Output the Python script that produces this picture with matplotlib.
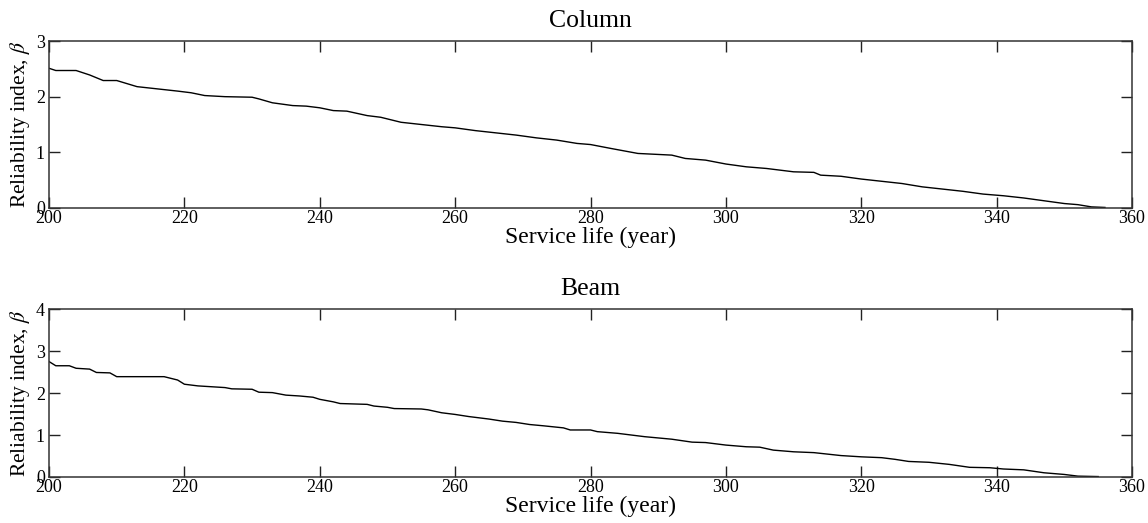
import matplotlib
matplotlib.use("Agg")
import matplotlib.pyplot as plt

plt.rcParams['font.family'] = ['Liberation Serif', 'DejaVu Serif']
plt.rcParams['mathtext.fontset'] = 'stix'

# Column curve
col_years = [200, 201, 204, 206, 208, 210, 213, 216, 219, 221, 223, 226, 230, 231,
             233, 236, 238, 240, 242, 244, 247, 249, 252, 255, 258, 260, 263, 266,
             269, 272, 275, 278, 280, 283, 287, 292, 294, 297, 300, 303, 306, 310,
             313, 314, 317, 320, 323, 326, 329, 332, 335, 338, 341, 344, 347, 350,
             352, 354, 356]
col_beta = [2.51, 2.47, 2.47, 2.39, 2.29, 2.29, 2.18, 2.14, 2.10, 2.07, 2.02, 2.00, 1.99, 1.96,
            1.89, 1.84, 1.83, 1.80, 1.75, 1.74, 1.66, 1.63, 1.54, 1.50, 1.46, 1.44, 1.39, 1.35,
            1.31, 1.26, 1.22, 1.16, 1.14, 1.07, 0.98, 0.95, 0.89, 0.86, 0.79, 0.74, 0.71, 0.65,
            0.64, 0.59, 0.57, 0.52, 0.48, 0.44, 0.38, 0.34, 0.30, 0.25, 0.22, 0.18, 0.13, 0.08,
            0.06, 0.02, 0.01]

# Beam curve
beam_years = [200, 201, 203, 204, 206, 207, 209, 210, 213, 217, 219, 220, 222, 224, 226,
              227, 230, 231, 233, 235, 237, 239, 240, 242, 243, 247, 248, 250, 251, 255,
              256, 258, 260, 262, 265, 267, 269, 271, 273, 276, 277, 280, 281, 284, 288,
              292, 295, 297, 300, 303, 305, 307, 310, 313, 317, 320, 323, 325, 327, 330,
              333, 336, 339, 341, 344, 347, 350, 352, 355]
beam_beta = [2.75, 2.65, 2.65, 2.59, 2.57, 2.49, 2.48, 2.39, 2.39, 2.39, 2.31, 2.21, 2.17, 2.15, 2.13,
             2.10, 2.09, 2.02, 2.01, 1.95, 1.93, 1.90, 1.85, 1.79, 1.75, 1.73, 1.69, 1.66, 1.63, 1.62,
             1.60, 1.53, 1.49, 1.44, 1.38, 1.33, 1.30, 1.25, 1.22, 1.17, 1.12, 1.12, 1.08, 1.04, 0.96,
             0.90, 0.83, 0.82, 0.76, 0.72, 0.71, 0.64, 0.60, 0.58, 0.51, 0.48, 0.46, 0.42, 0.37, 0.35,
             0.30, 0.23, 0.22, 0.19, 0.17, 0.10, 0.06, 0.02, 0.01]

x_ticks = [200, 220, 240, 260, 280, 300, 320, 340, 360]

fig = plt.figure(figsize=(11.48, 5.23), dpi=100)
ax1 = fig.add_axes([0.0427, 0.6023, 0.9434, 0.3193])
ax2 = fig.add_axes([0.0427, 0.088, 0.9434, 0.321])


def style(ax, title, ymax):
    ax.set_xlim(200, 360)
    ax.set_ylim(0, ymax)
    ax.set_xticks(x_ticks)
    ax.set_yticks(range(0, ymax + 1))
    ax.tick_params(direction='in', length=8, width=1, top=True, right=True,
                   labelsize=13, color='#222222')
    ax.tick_params(axis='x', pad=1.5)
    ax.tick_params(axis='y', pad=3)
    for s in ax.spines.values():
        s.set_linewidth(1.1)
        s.set_color('#333333')
    ax.set_title(title, fontsize=18.5, pad=10)
    ax.set_xlabel('Service life (year)', fontsize=17, labelpad=0)
    ax.set_ylabel(r'Reliability index, $\beta$', fontsize=15.5, labelpad=3)


ax1.plot(col_years, col_beta, color='black', linewidth=1.0)
style(ax1, 'Column', 3)

ax2.plot(beam_years, beam_beta, color='black', linewidth=1.0)
style(ax2, 'Beam', 4)

fig.savefig('out.png', dpi=100)
